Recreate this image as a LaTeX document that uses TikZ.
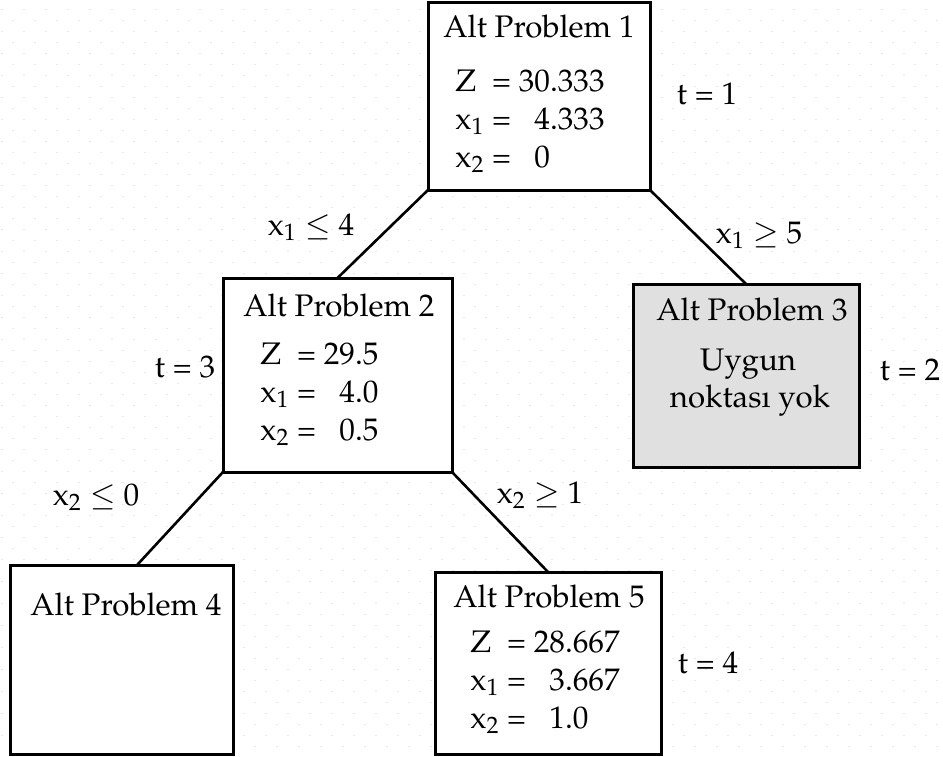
\documentclass[tikz,border=0pt]{standalone}
\usepackage[T1]{fontenc}
\usepackage{mathpazo}
\usetikzlibrary{calc}
\definecolor{noktagri}{RGB}{234,234,234}
\definecolor{kutugri}{RGB}{224,224,224}
\begin{document}
\begin{tikzpicture}[
		x=0.5pt,
		y=-0.5pt,
		font=\fontsize{15.6}{19}\selectfont,
		altkutu/.style={draw, line width=1.5pt, fill=white, inner sep=0pt, outer sep=0pt},
		dal/.style={line width=1.3pt},
		yazi/.style={anchor=base, inner sep=0pt}
	]
	\useasboundingbox (0,0) rectangle (943,756);

	% ---- nokta izgarasi ------------------------------------------
	\foreach \r in {0,...,34} {
			\foreach \k in {0,...,42} {
					\fill[noktagri] (1.7+22*\k-0.8,9.3+22*\r-0.8) rectangle ++(1.6,1.6);
					\fill[noktagri] (12.7+22*\k-0.8,20.3+22*\r-0.8) rectangle ++(1.6,1.6);
				}
		}

	% ---- kutular -------------------------------------------------
	\node[altkutu, minimum width=111pt, minimum height=94pt] (ap1) at (539,96) {};
	\node[altkutu, minimum width=114.5pt, minimum height=97pt] (ap2) at (337.5,375) {};
	\node[altkutu, fill=kutugri, minimum width=113pt, minimum height=91.5pt] (ap3) at (746,375.5) {};
	\node[altkutu, minimum width=111.5pt, minimum height=94.5pt] (ap4) at (121.5,659.5) {};
	\node[altkutu, minimum width=113pt, minimum height=91pt] (ap5) at (548,663) {};

	% ---- dallar --------------------------------------------------
	\draw[dal] (ap1.south west) -- (ap2.north);
	\draw[dal] (ap1.south east) -- (ap3.north);
	\draw[dal] (ap2.south west) -- ($(ap4.north west)!0.57!(ap4.north east)$);
	\draw[dal] (ap2.south east) -- (ap5.north);

	% ---- kutu icerikleri -----------------------------------------
	\node[yazi] (b1) at (539,37) {Alt Problem 1};
	\node[yazi, anchor=base west] (d1) at (455,91) {\begin{tabular}[t]{@{}l@{\ }l@{\ }l@{}}
			Z & = & 30.333\\
			x\textsubscript{1} & = & \phantom{0}4.333\\
			x\textsubscript{2} & = & \phantom{0}0
		\end{tabular}};

	\node[yazi] (b2) at (339,316) {Alt Problem 2};
	\node[yazi, anchor=base west] (d2) at (260,364) {\begin{tabular}[t]{@{}l@{\ }l@{\ }l@{}}
			Z & = & 29.5\\
			x\textsubscript{1} & = & \phantom{0}4.0\\
			x\textsubscript{2} & = & \phantom{0}0.5
		\end{tabular}};

	\node[yazi] (b3) at (752,320) {Alt Problem 3};
	\node[yazi] (u3) at (748,370) {Uygun};
	\node[yazi] (n3) at (750,407) {noktas\i{} yok};

	\node[yazi] (b4) at (126,615) {Alt Problem 4};

	\node[yazi] (b5) at (549,607) {Alt Problem 5};
	\node[yazi, anchor=base west] (d5) at (470,652) {\begin{tabular}[t]{@{}l@{\ }l@{\ }l@{}}
			Z & = & 28.667\\
			x\textsubscript{1} & = & \phantom{0}3.667\\
			x\textsubscript{2} & = & \phantom{0}1.0
		\end{tabular}};

	% ---- dal etiketleri ve adimlar -------------------------------
	\node[yazi] (e1) at (311,235) {x\textsubscript{1} $\leq$ 4};
	\node[yazi] (e2) at (759,243) {x\textsubscript{1} $\geq$ 5};
	\node[yazi] (e3) at (96,505) {x\textsubscript{2} $\leq$ 0};
	\node[yazi] (e4) at (540,503) {x\textsubscript{2} $\geq$ 1};

	\node[yazi] (t1) at (707,104) {t = 1};
	\node[yazi] (t2) at (910,380) {t = 2};
	\node[yazi] (t3) at (185,377) {t = 3};
	\node[yazi] (t4) at (708,673) {t = 4};
\end{tikzpicture}
\end{document}
